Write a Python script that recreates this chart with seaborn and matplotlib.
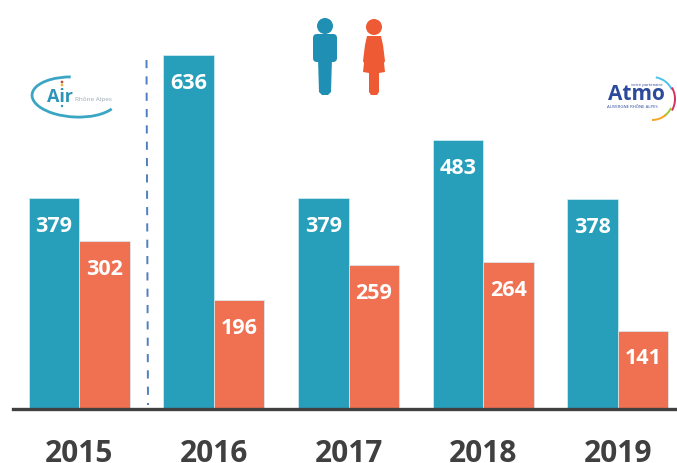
import matplotlib
matplotlib.use("Agg")
import matplotlib.pyplot as plt
import pandas as pd
import seaborn as sns
from matplotlib.patches import Circle, Polygon, FancyBboxPatch, Arc

years = ["2015", "2016", "2017", "2018", "2019"]
men = [379, 636, 379, 483, 378]
women = [302, 196, 259, 264, 141]
TEAL, RED = "#279fbb", "#f07052"
W, H = 677, 463

sns.set_theme(style="white")
plt.rcParams["font.family"] = ["Open Sans", "DejaVu Sans"]

df = pd.DataFrame({"year": years * 2, "value": men + women,
                   "sex": ["H"] * 5 + ["F"] * 5})
fig = plt.figure(figsize=(W / 100, H / 100), dpi=100)
ax = fig.add_axes([13 / W, (H - 409) / H, (W - 13) / W, 409 / H])
sns.barplot(df, x="year", y="value", hue="sex", palette=[TEAL, RED], width=0.75,
            gap=0, saturation=1, legend=False, ax=ax, edgecolor="#d8eef3", linewidth=0.5)
ax.set_xlim(-0.492, 4.44)
ax.set_ylim(0, 735)
ax.set_xlabel("")
ax.set_ylabel("")
ax.set_yticks([])
for s in ["top", "left", "right"]:
    ax.spines[s].set_visible(False)
ax.spines["bottom"].set_color("#404040")
ax.spines["bottom"].set_linewidth(2.4)
ax.tick_params(axis="x", length=0, pad=21.5)
for t in ax.get_xticklabels():
    t.set_fontsize(21.5)
    t.set_fontweight("bold")
    t.set_color("#404040")
for c in ax.containers:
    ax.bar_label(c, label_type="edge", padding=-28, color="white",
                 fontsize=15.5, fontweight="bold")

# Pixel-space overlay for decorations
ov = fig.add_axes([0, 0, 1, 1], facecolor="none")
ov.set_xlim(0, W)
ov.set_ylim(H, 0)
ov.axis("off")
ov.plot([146.5, 148], [60, 405], color="#4f7fc0", lw=1.4, dashes=(4.2, 4.2))

# Man
MAN, WOMAN = "#1f8fb3", "#ee5a33"
ov.add_patch(Circle((325, 26), 8, color=MAN, lw=0))
ov.add_patch(FancyBboxPatch((315, 36), 20, 24, boxstyle="round,pad=2,rounding_size=4",
                            color=MAN, lw=0))
ov.add_patch(Polygon([(318, 58), (332, 58), (331, 92), (328, 95), (322, 95), (319, 92)],
                     closed=True, color=MAN, lw=0))
# Woman
ov.add_patch(Circle((374, 27), 8, color=WOMAN, lw=0))
ov.add_patch(Polygon([(367, 36), (381, 36), (383, 45), (385, 61), (384, 63), (385, 72),
                      (379, 73), (379, 92), (377, 95), (371, 95), (369, 92), (369, 73),
                      (363, 72), (364, 63), (363, 61), (365, 45)],
                     closed=True, color=WOMAN, lw=0))

# Air Rhône-Alpes logo
ov.add_patch(Arc((75, 97), 86, 40, angle=3, theta1=15, theta2=255, color="#3aa6c4", lw=2.0))
ov.text(60, 97, "Air", color="#2e93b8", fontsize=13, fontweight="bold", ha="center", va="center")
ov.scatter([62, 62, 62], [82, 85, 106], s=[4, 4, 3], color=["#b5533a", "#e8b83a", "#2e93b8"], lw=0)
ov.text(93, 100, "Rhône Alpes", color="#9aa8b0", fontsize=4.6, ha="center", va="center")

# Atmo logo
ov.text(636, 94.5, "Atmo", color="#2c4a9c", fontsize=15, fontweight="bold", ha="center", va="center")
ov.text(647, 85, "votre partenaire", color="#2c4a9c", fontsize=3, ha="center", va="center")
ov.text(632, 106.5, "AUVERGNE RHÔNE ALPES", color="#2c4a9c", fontsize=3.1, ha="center", va="center")
for r, col, t1, t2 in [(22, "#4cc3ea", -80, -25), (23, "#d8325a", -30, 30),
                       (21, "#9cc93b", 25, 55), (21, "#f5a623", 50, 90)]:
    ov.add_patch(Arc((652, 99), 2 * r, 2 * r, theta1=t1, theta2=t2, color=col, lw=1.4))

fig.savefig("out.png", dpi=100)
